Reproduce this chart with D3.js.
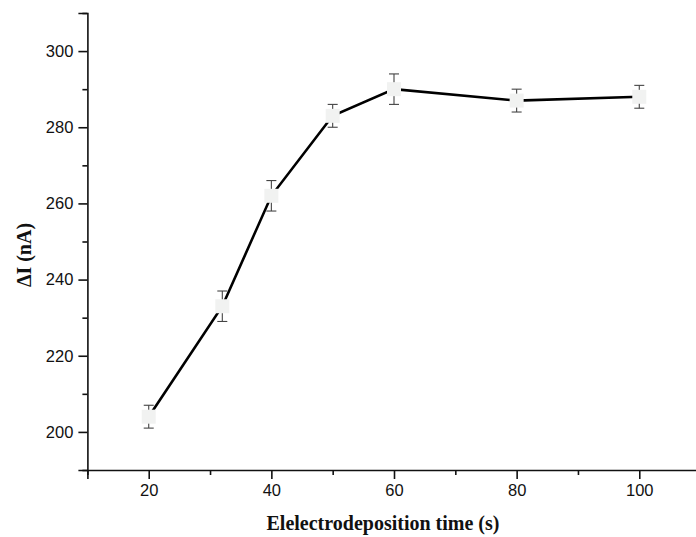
<!DOCTYPE html>
<html>
<head>
<meta charset="utf-8">
<script src="https://cdn.jsdelivr.net/npm/d3@7"></script>
<style>
  body { margin: 0; background: #fff; }
  svg { display: block; }
</style>
</head>
<body>
<svg width="696" height="537"></svg>
<script>
// deposition time (s) and response current
var times = [20, 32, 40, 50, 60, 80, 100];
var currents = [204, 233, 262, 283, 290, 287, 288];
var errors = [3, 4, 4, 3, 4, 3, 3];
var xTicks = [20, 40, 60, 80, 100];
var yTicks = [200, 220, 240, 260, 280, 300];

document.addEventListener("DOMContentLoaded", function () {
  draw();

  function draw() {
    var svg = d3.select("svg");

    var x = d3.scaleLinear().domain([10, 110]).range([87.4, 700.6]);
    var y = d3.scaleLinear().domain([190, 310]).range([470, 13]);

    var data = times.map(function (t, i) {
      return { t: t, v: currents[i], e: errors[i] };
    });

    // axes
    var xAxis = d3.axisBottom(x).tickValues(xTicks).tickSize(9).tickPadding(5)
      .tickFormat(d3.format("d"));
    svg.append("g").attr("transform", "translate(0,470)").call(xAxis);
    svg.append("g").attr("transform", "translate(0,470)")
      .call(d3.axisBottom(x).tickValues([10, 30, 50, 70, 90, 110]).tickSize(5).tickFormat(""))
      .select(".domain").remove();

    var yAxis = d3.axisLeft(y).tickValues(yTicks).tickSize(9).tickPadding(5)
      .tickFormat(d3.format("d"));
    svg.append("g").attr("transform", "translate(87.4,0)").call(yAxis);
    svg.append("g").attr("transform", "translate(87.4,0)")
      .call(d3.axisLeft(y).tickValues([190, 210, 230, 250, 270, 290, 310]).tickSize(5).tickFormat(""))
      .select(".domain").remove();

    svg.selectAll(".domain").attr("stroke", "#111").attr("stroke-width", 1.6);
    svg.selectAll(".tick line").attr("stroke", "#111").attr("stroke-width", 1.6);
    svg.selectAll(".tick text")
      .attr("fill", "#111")
      .style("font-family", "'Liberation Sans', Arial, sans-serif")
      .style("font-size", "16.5px");

    // axis titles
    svg.append("text")
      .attr("x", 383)
      .attr("y", 530)
      .attr("text-anchor", "middle")
      .style("font-family", "'Liberation Serif', 'Times New Roman', serif")
      .style("font-weight", "bold")
      .style("font-size", "20px")
      .attr("fill", "#111")
      .text("Elelectrodeposition time (s)");

    svg.append("text")
      .attr("transform", "translate(31,255) rotate(-90)")
      .attr("text-anchor", "middle")
      .style("font-family", "'Liberation Serif', 'Times New Roman', serif")
      .style("font-weight", "bold")
      .style("font-size", "20px")
      .attr("fill", "#111")
      .text("\u0394I (nA)");

    // connecting line
    var line = d3.line()
      .x(function (d) { return x(d.t); })
      .y(function (d) { return y(d.v); });

    svg.append("path")
      .datum(data)
      .attr("d", line)
      .attr("fill", "none")
      .attr("stroke", "#000")
      .attr("stroke-width", 2.6);

    // error bars
    var eb = svg.append("g").selectAll("g")
      .data(data)
      .enter()
      .append("g")
      .attr("stroke", "#444")
      .attr("stroke-width", 1.1);

    eb.append("line")
      .attr("x1", function (d) { return x(d.t); })
      .attr("x2", function (d) { return x(d.t); })
      .attr("y1", function (d) { return y(d.v + d.e); })
      .attr("y2", function (d) { return y(d.v - d.e); });
    eb.append("line")
      .attr("x1", function (d) { return x(d.t) - 5; })
      .attr("x2", function (d) { return x(d.t) + 5; })
      .attr("y1", function (d) { return y(d.v + d.e); })
      .attr("y2", function (d) { return y(d.v + d.e); });
    eb.append("line")
      .attr("x1", function (d) { return x(d.t) - 5; })
      .attr("x2", function (d) { return x(d.t) + 5; })
      .attr("y1", function (d) { return y(d.v - d.e); })
      .attr("y2", function (d) { return y(d.v - d.e); });

    // markers
    svg.append("g").selectAll("rect")
      .data(data)
      .enter()
      .append("rect")
      .attr("x", function (d) { return x(d.t) - 7; })
      .attr("y", function (d) { return y(d.v) - 7; })
      .attr("width", 14)
      .attr("height", 14)
      .attr("fill", "#f1f2f1");
  }
});
</script>
</body>
</html>
